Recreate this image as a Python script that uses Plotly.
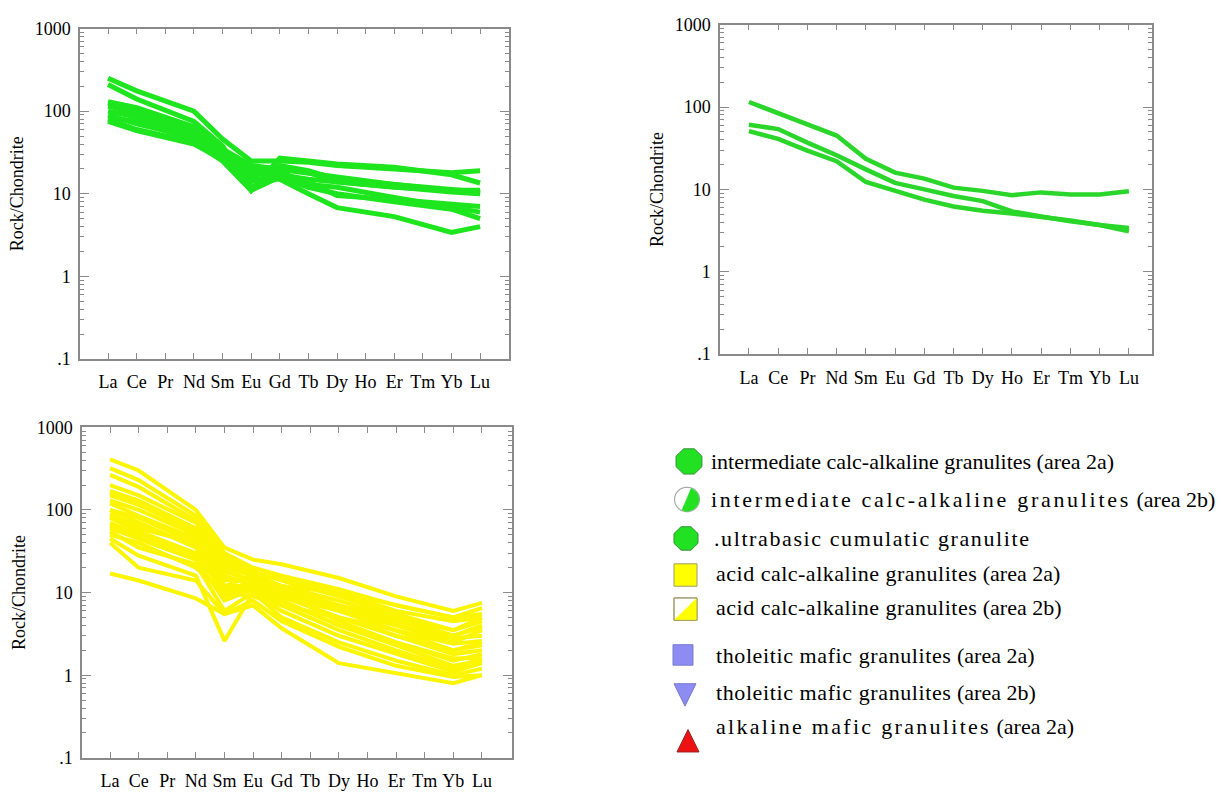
import math
import plotly.graph_objects as go

W, H = 1229, 800

ree = ["La", "Ce", "Pr", "Nd", "Sm", "Eu", "Gd", "Tb", "Dy", "Ho", "Er", "Tm", "Yb", "Lu"]
N = None

# Panel 1: intermediate calc-alkaline granulites (area 2a)
p1_lines = [
    [250, 176, N, 100, 46, 25, 25, 24, 22, N, 20, N, 18, 19],
    [210, 140, N, 75, 38, 11, 27, 25, 23, N, 21, N, 17, 13.5],
    [130, 110, N, 65, 35, 22, 20, 18, 16, N, 13, N, 11.5, 10.5],
    [125, 100, N, 60, 32, 18, 22, 19, 15, N, 13, N, 11, 10],
    [115, 95, N, 55, 30, 16, 21, 18, 14, N, 12, N, 10.5, 10],
    [100, 85, N, 50, 28, 14, 18, 14, 9.5, N, 8.5, N, 7.5, 7],
    [90, 70, N, 48, 27, 12, 17, 13, 12, N, 9, N, 7, 6],
    [80, 60, N, 42, 25, 11, 16, 12, 10, N, 8, N, 6.5, 5],
    [75, 58, N, 40, 26, 15, 15, 10, 6.8, N, 5.3, N, 3.4, 4],
    [85, 75, N, 45, 28, 20, 17, 15, 14, N, 12, N, 11, 11],
]

# Panel 2: intermediate calc-alkaline granulites (area 2b)
p2_lines = [
    [115, 85, 62, 45, 23.5, 16, 13.5, 10.5, 9.6, 8.5, 9.2, 8.7, 8.7, 9.5],
    [61, 54, 37, 26, 17.5, 12, 10, 8.3, 7.2, 5.4, 4.7, 4.1, 3.7, 3.4],
    [51, 41, 29.5, 22, 12.3, 9.5, 7.5, 6.2, 5.5, 5.1, 4.7, 4.2, 3.7, 3.1],
]

# Panel 3: acid calc-alkaline granulites
p3_lines = [
    [410, 300, N, 100, 35, 25, 22, N, 15, N, 9, N, 6, 7.5],
    [320, 230, N, 85, 30, 20, 16, N, 11, N, 7, N, 5, 6.5],
    [265, 190, N, 75, 28, 18, 14, N, 9, N, 5.5, N, 3.5, 5],
    [170, 130, N, 60, 22, 17, 12, N, 7, N, 4, N, 2.5, 3.5],
    [150, 115, N, 55, 20, 16, 11, N, 6, N, 3.5, N, 2, 2.5],
    [130, 100, N, 50, 15, 14, 9, N, 5, N, 3, N, 1.8, 2],
    [160, 120, N, 52, 12, 16, 10, N, 4.5, N, 2.5, N, 1.5, 1.8],
    [100, 70, N, 35, 9, 12, 8, N, 4, N, 2.3, N, 1.3, 1.5],
    [80, 55, N, 30, 10, 13, 9, N, 6, N, 4, N, 2.8, 3],
    [65, 45, N, 25, 8, 11, 7, N, 3.5, N, 2, N, 1.2, 1.6],
    [55, 35, N, 22, 6, 10, 6, N, 3, N, 1.8, N, 1.1, 1.4],
    [45, 28, N, 16, 2.6, 10, 5, N, 2.5, N, 1.5, N, 1.0, 1.2],
    [40, 20, N, 14, 5.5, 8, 4.5, N, 2.2, N, 1.3, N, 0.95, 1.0],
    [17, 14, N, 8.5, 5.5, 7, 3.7, N, 1.4, N, 1.05, N, 0.8, 1.0],
    [90, 60, N, 40, 14, 15, 12, N, 8, N, 5, N, 3, 3.8],
    [120, 85, N, 45, 18, 14, 10, N, 6.5, N, 4.5, N, 3, 4],
    [70, 50, N, 28, 12, 12, 10, N, 7, N, 5, N, 3.5, 4.5],
    [50, 40, N, 20, 10, 9, 7, N, 5, N, 3, N, 2, 2.3],
    [100, 80, N, 40, 16, 12, 12, N, 10, N, 7, N, 5, 5.5],
    [200, 150, N, 70, 25, 17, 15, N, 10, N, 6, N, 4.5, 5],
    [60, 45, N, 25, 12, 11, 8, N, 4, N, 2.5, N, 1.6, 1.6],
    [85, 65, N, 38, 11, 12, 9, N, 5, N, 3.5, N, 2.4, 2.6],
]

# legend entries: (main text, suffix, letter spacing of main text in px)
legend_main = [
    "intermediate calc-alkaline granulites",
    "intermediate calc-alkaline granulites",
    ".ultrabasic cumulatic granulite",
    "acid calc-alkaline granulites",
    "acid calc-alkaline granulites",
    "tholeitic mafic granulites",
    "tholeitic mafic granulites",
    "alkaline mafic granulites",
]
legend_suffix = [" (area 2a)", " (area 2b)", "", " (area 2a)", " (area 2b)",
                 " (area 2a)", " (area 2b)", " (area 2a)"]
legend_spacing = [0, 2.7, 1.6, 0.5, 0.5, 0.6, 0.6, 2.3]

y_tickvals = [0.1, 1, 10, 100, 1000]
y_ticktext = [".1", "1", "10", "100", "1000"]
minor_vals = [m * 10 ** e for e in range(-1, 3) for m in range(2, 10)]

GREEN1 = "#1ee61e"
GREEN2 = "#2ad62a"
YELLOW = "#fcf500"
FRAME = "#8a8a8a"
SERIF = "Liberation Serif, Times New Roman, serif"


def px_x(x):
    return x / W


def px_y(y):
    return 1 - y / H


fig = go.Figure()

panels = [
    (p1_lines, GREEN1, 5, "x", "y", 80, 509, 19, 358, [-0.98, 14.01]),
    (p2_lines, GREEN2, 4.5, "x2", "y2", 720, 1152, 15, 353, [-0.99, 13.79]),
    (p3_lines, YELLOW, 4, "x3", "y3", 82, 512, 428, 767, [-0.98, 14.05]),
]

xs = list(range(len(ree)))

for i, (lines, color, lw, xa, ya, x0, x1, y0, y1, xr) in enumerate(panels):
    for vals in lines:
        fig.add_trace(go.Scatter(
            x=xs, y=vals, mode="lines", xaxis=xa, yaxis=ya,
            line=dict(color=color, width=lw), connectgaps=True,
            showlegend=False, hoverinfo="skip",
        ))
    suffix = "" if i == 0 else str(i + 1)
    fig.layout["xaxis" + suffix] = dict(
        domain=[px_x(x0), px_x(x1)], range=xr, anchor=ya,
        tickvals=xs, ticktext=ree, ticks="inside", ticklen=6, tickcolor=FRAME,
        showline=True, linecolor=FRAME, linewidth=1.5, mirror="ticks",
        showgrid=False, zeroline=False,
        tickfont=dict(family=SERIF, size=18, color="black"),
        ticklabelstandoff=6,
    )
    fig.layout["yaxis" + suffix] = dict(
        domain=[px_y(y1), px_y(y0)], type="log", range=[-1, 3], anchor=xa,
        tickvals=y_tickvals, ticktext=y_ticktext, ticks="inside", ticklen=9,
        tickcolor=FRAME,
        minor=dict(tickvals=minor_vals, ticks="inside", ticklen=4, tickcolor=FRAME, showgrid=False),
        showline=True, linecolor=FRAME, linewidth=1.5, mirror="ticks",
        showgrid=False, zeroline=False,
        tickfont=dict(family=SERIF, size=18, color="black"),
        ticklabelstandoff=4,
        title=dict(text="Rock/Chondrite", font=dict(family=SERIF, size=18, color="black"), standoff=6),
    )

# Legend glyphs (drawn in pixel space converted to paper)
shapes = []


def poly(points, fill, line, lw=1):
    d = "M " + " L ".join(f"{px_x(x):.5f},{px_y(y):.5f}" for x, y in points) + " Z"
    return dict(type="path", xref="paper", yref="paper", path=d,
                fillcolor=fill, line=dict(color=line, width=lw), layer="above")


def octagon(cx, cy, r):
    return [(cx + r * math.cos(math.radians(22.5 + 45 * k)), cy + r * math.sin(math.radians(22.5 + 45 * k))) for k in range(8)]


def circle_pts(cx, cy, r, a0, a1, n=40):
    return [(cx + r * math.cos(math.radians(a0 + (a1 - a0) * k / n)), cy + r * math.sin(math.radians(a0 + (a1 - a0) * k / n))) for k in range(n + 1)]


OCT_FILL = "#22e022"
OCT_LINE = "#3a8f3a"
shapes.append(poly(octagon(689, 463, 14), OCT_FILL, OCT_LINE))
shapes.append(poly(circle_pts(687, 502, 12.5, 0, 360, 60), "white", "#aaaaaa", 1.2))
shapes.append(poly(circle_pts(687, 502, 12, -70, 115, 40), OCT_FILL, OCT_FILL, 0.5))
shapes.append(poly(octagon(686, 542, 13), OCT_FILL, OCT_LINE))
shapes.append(poly([(674, 568), (697, 568), (697, 591), (674, 591)], "#ffff00", "#a09a6a"))
shapes.append(poly([(674, 603), (697, 603), (697, 626), (674, 626)], "white", "#a09a6a"))
shapes.append(poly([(697, 603), (697, 626), (674, 626)], "#ffff00", "#ffff00", 0.5))
shapes.append(poly([(674, 603), (697, 603), (697, 626), (674, 626)], "rgba(0,0,0,0)", "#a09a6a"))
shapes.append(poly([(673, 651), (693, 651), (693, 672), (673, 672)], "#8c8cf2", "#7a7ad0"))
shapes.append(poly([(674, 691), (696, 691), (685, 714)], "#8c8cf2", "#7a7ad0"))
shapes.append(poly([(688, 738), (699, 761), (677, 761)], "#ee1111", "#992222"))

fig.update_layout(shapes=shapes)

legend_y = [463, 502, 542, 578, 613, 662, 700, 735]
legend_x = [709, 709, 712, 714, 714, 714, 714, 714]
for main, suf, sp, yy, xx in zip(legend_main, legend_suffix, legend_spacing, legend_y, legend_x):
    if sp:
        txt = f'<span style="letter-spacing:{sp}px">{main}</span>{suf}'
    else:
        txt = main + suf
    fig.add_annotation(
        x=px_x(xx), y=px_y(yy), xref="paper", yref="paper",
        xanchor="left", yanchor="middle", showarrow=False, text=txt,
        font=dict(family=SERIF, size=22, color="black"),
    )

fig.update_layout(
    width=W, height=H, margin=dict(l=0, r=0, t=0, b=0),
    paper_bgcolor="white", plot_bgcolor="white", showlegend=False,
)

fig.write_html("out.html", config={"displayModeBar": False},
               post_script="document.body.style.margin='0';document.body.style.overflow='hidden';")
